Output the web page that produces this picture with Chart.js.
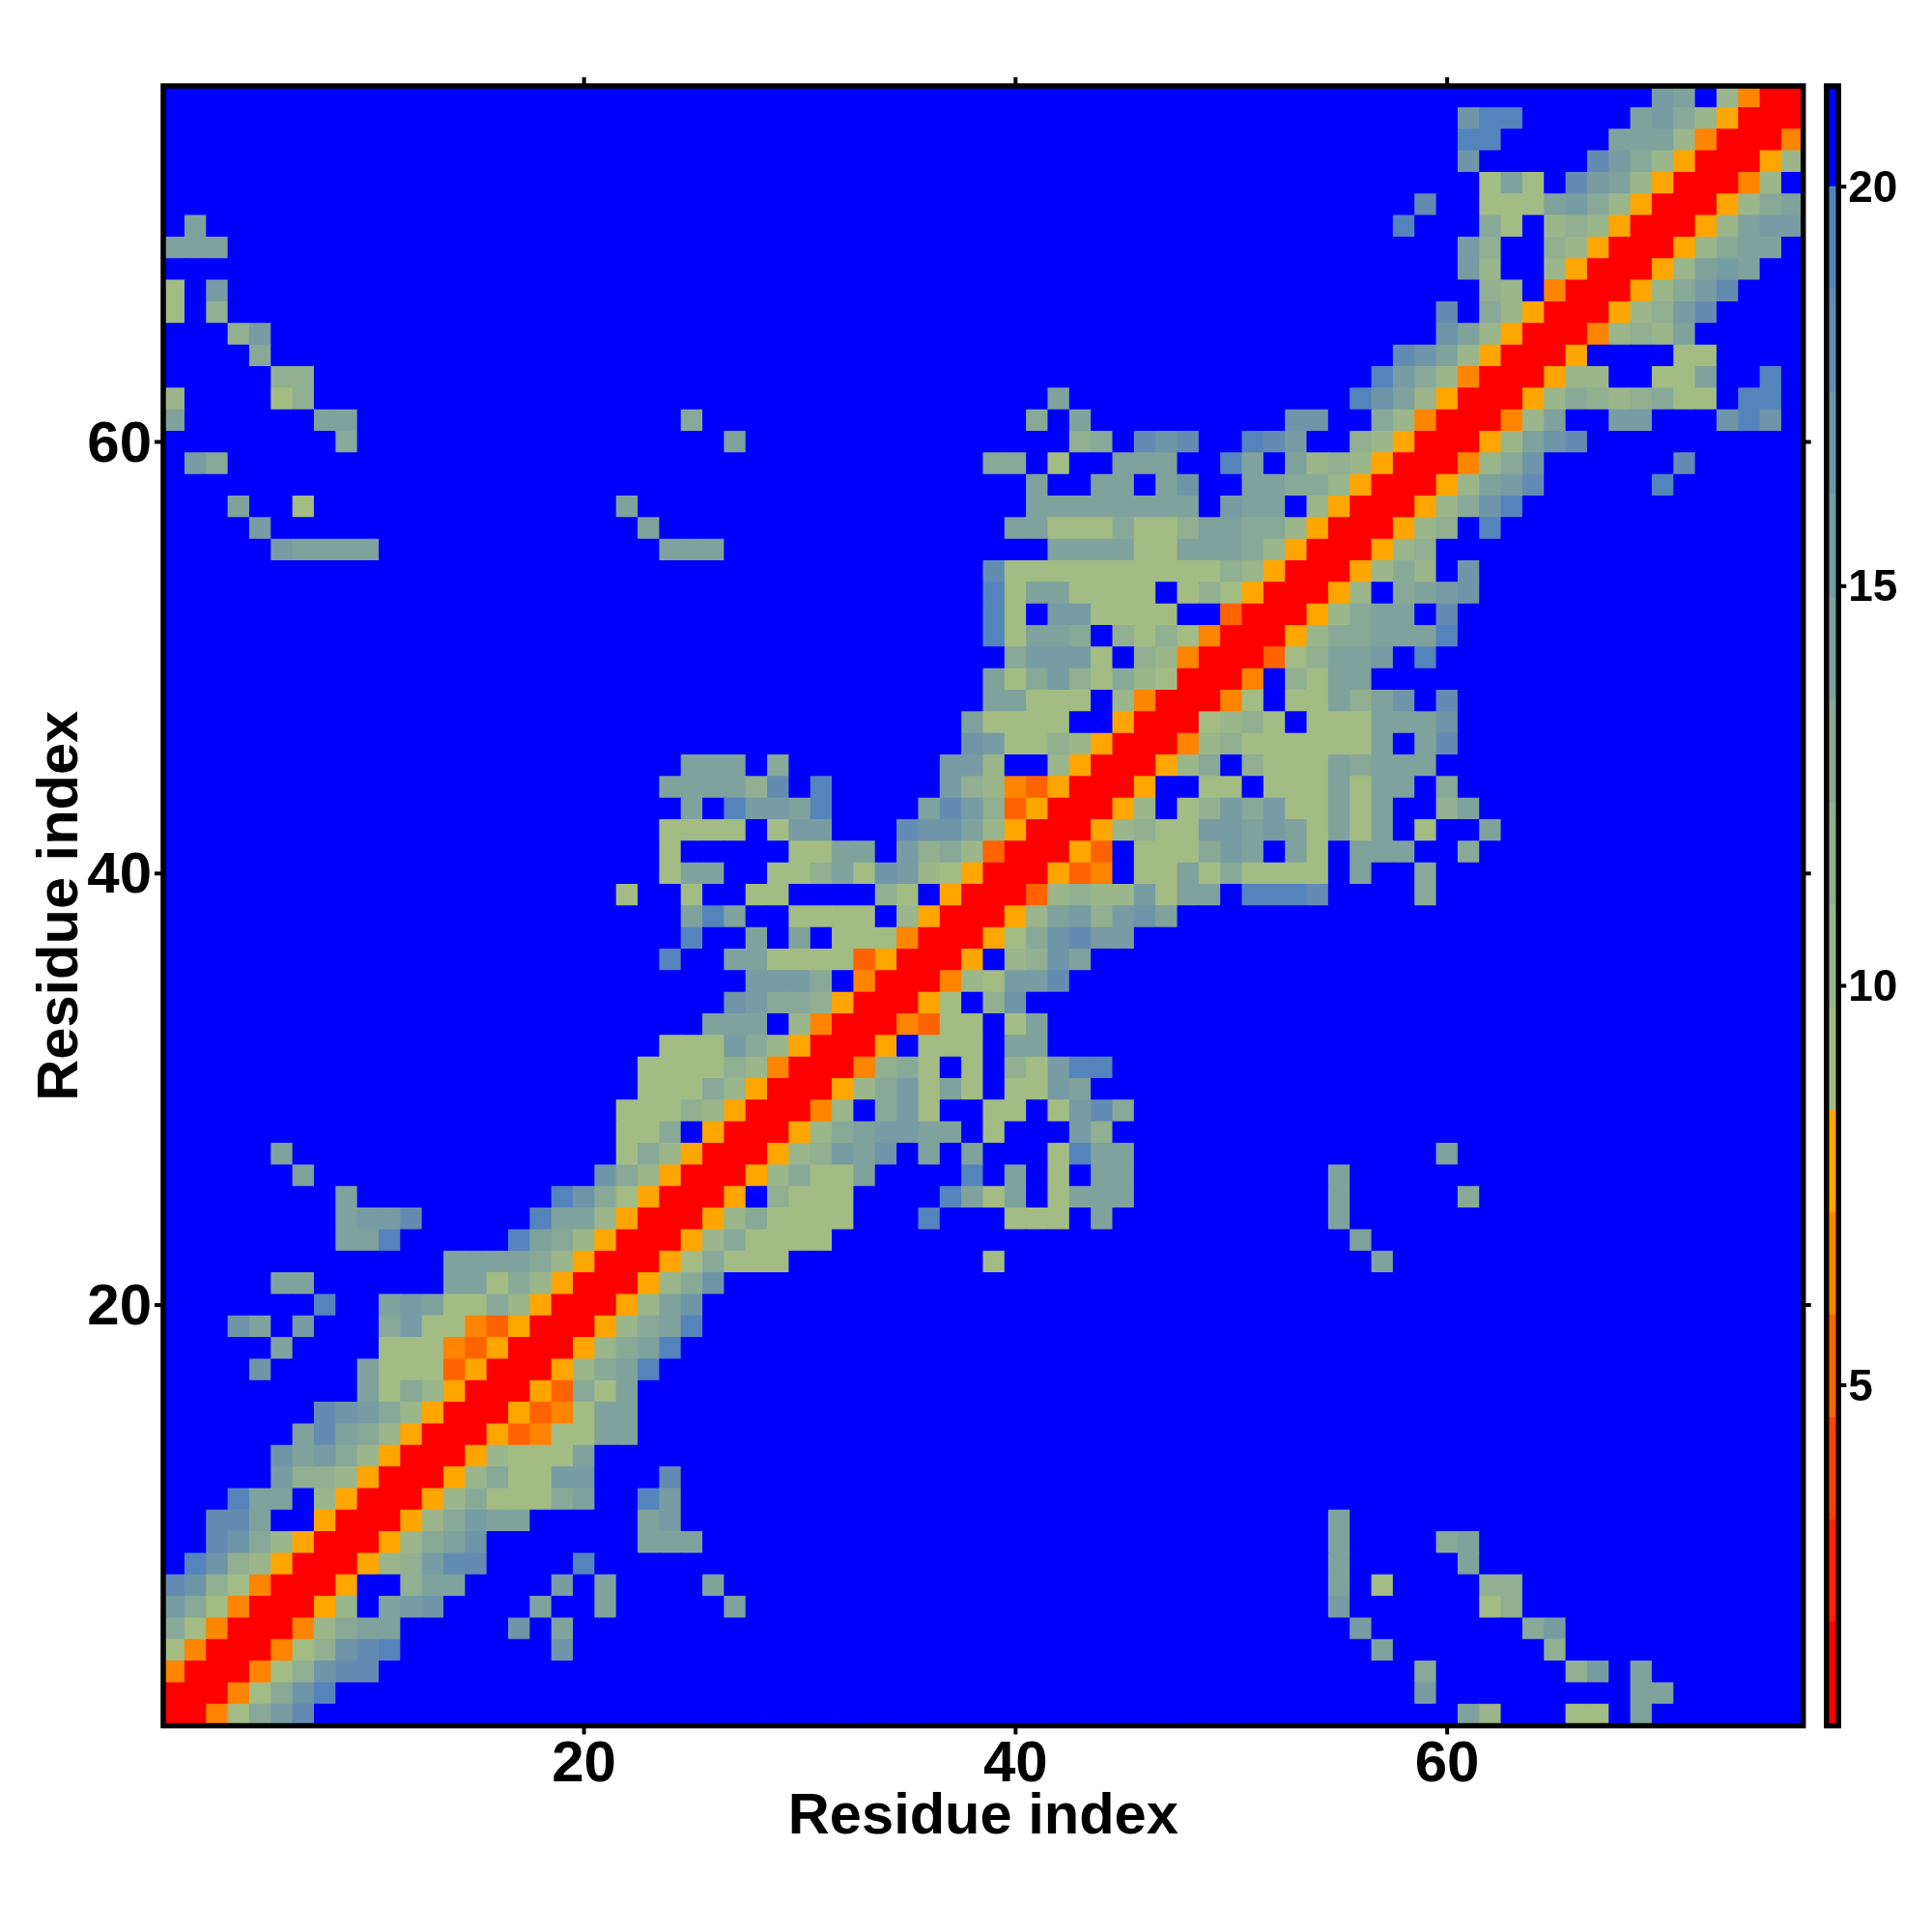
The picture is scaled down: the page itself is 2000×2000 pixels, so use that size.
<!DOCTYPE html>
<html>
<head>
<meta charset="utf-8">
<title>Residue contact map</title>
<script src="https://cdn.jsdelivr.net/npm/chart.js@4/dist/chart.umd.min.js"></script>
<style>
    html, body { margin: 0; padding: 0; background: #fff; }
    #map { position: absolute; left: 0; top: 0; }
    #bar { position: absolute; left: 1880px; top: 0; }
</style>
</head>
<body>
<canvas id="map" width="2000" height="2000"></canvas>
<canvas id="bar" width="120" height="2000"></canvas>
<script>
const residues = Array.from({length: 76}, (_, i) => String(i + 1));
const axisTicks = [20, 40, 60];
const barTicks = [5, 10, 15, 20];
const axisTitle = 'Residue index';

// colour bands of the key: distance edges and their colours
const bandEdges = [0.74, 2.04, 3.32, 4.6, 5.88, 7.16, 8.44, 9.72, 11.01, 12.29, 13.58, 14.86, 16.15, 17.43, 18.72, 20, 21.26];
const bandColors = ['#ff0000', '#ff2100', '#ff4200', '#ff6300', '#ff8400', '#ffa500',
    '#a2bc84', '#9ab68a', '#91af91', '#88a998', '#80a29d', '#789ca3', '#6f95a9', '#648cb2', '#5584bd', '#0000ff'];

// distance read for each letter used in contactRows
const levelDistance = {R: 1.4, Q: 5.2, P: 6.5, O: 7.8, 1: 9.1, 2: 10.4, 3: 11.6, 4: 12.9, 5: 14.2, 6: 15.5, 7: 16.8, 8: 18.1, 9: 19.4, '.': 21};

// lower triangle, one row per residue: [first column, levels]. Everything not listed is '.'
const contactRows = [
    [[1, "R"]],
    [[1, "RR"]],
    [[1, "PRR"]],
    [[1, "1PRR"]],
    [[1, "41PRR"]],
    [[1, "641PRR"]],
    [[1, "8731PRR"]],
    [[2, "9732ORR"]],
    [[3, "8742ORR"]],
    [[3, "885..ORR"]],
    [[4, "955.2ORR"]],
    [[6, "6332ORR"]],
    [[6, "75642ORR"]],
    [[7, "58542ORR"]],
    [[8, "87642ORR"]],
    [[10, "5142ORR"]],
    [[5, "7"], [10, "5111QORR"]],
    [[6, "5"], [11, "111PQORR"]],
    [[4, "75.6"], [11, "4611PQORR"]],
    [[8, "9"], [11, "5651142ORR"]],
    [[6, "55"], [14, "55142ORR"]],
    [[14, "555542ORR"]],
    [[9, "559"], [17, "9542ORR"]],
    [[9, "5668"], [18, "9552ORR"]],
    [[9, "5"], [19, "9741ORR"]],
    [[7, "5"], [21, "742ORR"]],
    [[6, "5"], [22, "142ORR"]],
    [[22, "114.ORR"]],
    [[22, "11132ORR"]],
    [[23, "11142ORR"]],
    [[23, "111132PRR"]],
    [[24, "111642ORR"]],
    [[26, "555.2PRR"]],
    [[27, "76443ORR"]],
    [[28, "6664.PRR"]],
    [[24, "9"], [27, "551111QORR"]],
    [[25, "9"], [28, "5.5.111PRR"]],
    [[25, "595"], [30, "1111.2ORR"]],
    [[22, "1"], [25, "1"], [28, "11"], [34, "31.ORR"]],
    [[24, "155"], [29, "113517621ORR"]],
    [[24, "1"], [30, "1155.6342QRR"]],
    [[24, "1111.166"], [35, "87752ORR"]],
    [[25, "5.96659"], [36, "5863QORR"]],
    [[24, "555538.9"], [37, "632PQORR"]],
    [[25, "555.4"], [37, "662..2ORR"]],
    [[38, "761132ORR"]],
    [[38, "51111..ORR"]],
    [[39, "55111.2PRR"]],
    [[39, "514631421RR"]],
    [[40, "46661.32PRR"]],
    [[39, "91554.3131PRR"]],
    [[39, "91.661111..QRR"]],
    [[39, "91551111.131ORR"]],
    [[39, "8111111111132ORR"]],
    [[6, "65555"], [24, "555"], [42, "55551155542ORR"]],
    [[5, "6"], [23, "5"], [40, "55111411355442ORR"]],
    [[4, "5"], [7, "1"], [22, "5"], [41, "55555555.655.2ORR"]],
    [[41, "5..55.57..55442ORR"]],
    [[2, "64"], [39, "44.1..555..95.5232ORR"]],
    [[9, "4"], [27, "5"], [43, "34.878..986..32ORR"]],
    [[1, "5"], [8, "55"], [25, "4"], [41, "4.5"], [53, "77..42PRR"]],
    [[1, "2"], [6, "13"], [42, "5"], [56, "9752ORR"]],
    [[6, "33"], [57, "9642PRR"]],
    [[5, "4"], [58, "8752ORR"]],
    [[4, "36"], [60, "752ORR"]],
    [[1, "1.3"], [60, "8.42ORR"]],
    [[1, "1.6"], [62, "32.PRR"]],
    [[61, "62..2ORR"]],
    [[1, "555"], [61, "63..32ORR"]],
    [[2, "5"], [58, "9"], [62, "41.232ORR"]],
    [[59, "8"], [62, "1115642ORR"]],
    [[62, "151.8652ORR"]],
    [[61, "7"], [67, "8642ORR"]],
    [[61, "99"], [68, "5552PRR"]],
    [[61, "799"], [69, "5642ORR"]],
    [[70, "65.2PRR"]]
];

const FONT = '"Liberation Sans", Arial, sans-serif';

// the map is symmetric, so fill both halves from the rows above
const distances = residues.map(() => residues.map(() => levelDistance['.']));
contactRows.forEach((segments, row) => {
    segments.forEach(([first, levels]) => {
        Array.from(levels).forEach((level, k) => {
            const col = first - 1 + k;
            distances[row][col] = levelDistance[level];
            distances[col][row] = levelDistance[level];
        });
    });
});

function colorFor(distance) {
    for (let i = 0; i < bandColors.length; i++) {
        if (distance < bandEdges[i + 1]) {
            return bandColors[i];
        }
    }
    return bandColors[bandColors.length - 1];
}

// empty first line + tight line height nudges the vertical axis labels down a little
function nudgedLabel(value) {
    return ['', String(value)];
}

// black frame and the short outward ticks on the sides chart.js does not draw
const framePlugin = {
    id: 'frame',
    afterDatasetsDraw(chart, args, opts) {
        const {ctx, chartArea: area, scales} = chart;
        ctx.save();
        ctx.strokeStyle = '#000';
        ctx.lineWidth = 5.5;
        ctx.strokeRect(area.left, area.top, area.right - area.left, area.bottom - area.top);
        ctx.lineWidth = 4;
        ctx.beginPath();
        (opts.xTicks || []).forEach(v => {
            const x = scales.x.getPixelForValue(v);
            ctx.moveTo(x, area.bottom);
            ctx.lineTo(x, area.bottom + 9);
            ctx.moveTo(x, area.top);
            ctx.lineTo(x, area.top - 9);
        });
        (opts.yTicks || []).forEach(v => {
            const y = scales.y.getPixelForValue(v);
            if (opts.leftTicks) {
                ctx.moveTo(area.left, y);
                ctx.lineTo(area.left - 9, y);
            }
            ctx.moveTo(area.right, y);
            ctx.lineTo(area.right + 8, y);
        });
        ctx.stroke();
        ctx.restore();
    }
};

const rowDatasets = residues.map((_, row) => ({
    data: residues.map(() => [row + 0.5, row + 1.5]),
    backgroundColor: distances[row].map(colorFor)
}));

new Chart(document.getElementById('map'), {
    type: 'bar',
    data: {labels: residues, datasets: rowDatasets},
    plugins: [framePlugin],
    options: {
        responsive: false,
        animation: false,
        events: [],
        layout: {padding: {top: 89, right: 133.3}},
        datasets: {bar: {grouped: false, categoryPercentage: 1, barPercentage: 1, inflateAmount: 0.4, borderWidth: 0}},
        plugins: {
            legend: {display: false},
            tooltip: {enabled: false},
            frame: {xTicks: axisTicks.map(v => v - 1), yTicks: axisTicks, leftTicks: true}
        },
        scales: {
            x: {
                afterFit: scale => { scale.height = 213.5; },
                grid: {display: false},
                border: {display: false},
                ticks: {
                    autoSkip: false,
                    maxRotation: 0,
                    padding: -3,
                    color: '#000',
                    font: {family: FONT, size: 60, weight: 'bold'},
                    callback(value) {
                        const label = this.getLabelForValue(value);
                        return axisTicks.includes(Number(label)) ? label : '';
                    }
                },
                title: {
                    display: true,
                    text: axisTitle,
                    color: '#000',
                    font: {family: FONT, size: 59.6, weight: 'bold'},
                    padding: {top: 0, bottom: 83}
                }
            },
            y: {
                type: 'linear',
                min: 0.5,
                max: 76.5,
                afterFit: scale => { scale.width = 169; },
                afterBuildTicks: scale => { scale.ticks = axisTicks.map(value => ({value})); },
                grid: {display: false},
                border: {display: false},
                ticks: {
                    padding: 4,
                    color: '#000',
                    font: {family: FONT, size: 60, weight: 'bold', lineHeight: 0.12},
                    callback: nudgedLabel
                },
                title: {
                    display: true,
                    text: axisTitle,
                    color: '#000',
                    font: {family: FONT, size: 59.6, weight: 'bold'},
                    padding: {top: 28, bottom: 0}
                }
            }
        }
    }
});

// colour key on the right
const bandDatasets = bandColors.map((color, i) => ({
    data: [[bandEdges[i], bandEdges[i + 1]]],
    backgroundColor: color
}));

new Chart(document.getElementById('bar'), {
    type: 'bar',
    data: {labels: ['distance'], datasets: bandDatasets},
    plugins: [framePlugin],
    options: {
        responsive: false,
        animation: false,
        events: [],
        layout: {padding: {top: 89, bottom: 213.5, left: 10.75}},
        datasets: {bar: {grouped: false, categoryPercentage: 1, barPercentage: 1, inflateAmount: 0.4, borderWidth: 0}},
        plugins: {
            legend: {display: false},
            tooltip: {enabled: false},
            frame: {yTicks: barTicks}
        },
        scales: {
            x: {display: false},
            y: {
                position: 'right',
                min: bandEdges[0],
                max: bandEdges[bandEdges.length - 1],
                afterFit: scale => { scale.width = 96.75; },
                afterBuildTicks: scale => { scale.ticks = barTicks.map(value => ({value})); },
                grid: {display: false},
                border: {display: false},
                ticks: {
                    padding: 2,
                    color: '#000',
                    font: {family: FONT, size: 46, weight: 'bold', lineHeight: 0.12},
                    callback: nudgedLabel
                }
            }
        }
    }
});
</script>
</body>
</html>
